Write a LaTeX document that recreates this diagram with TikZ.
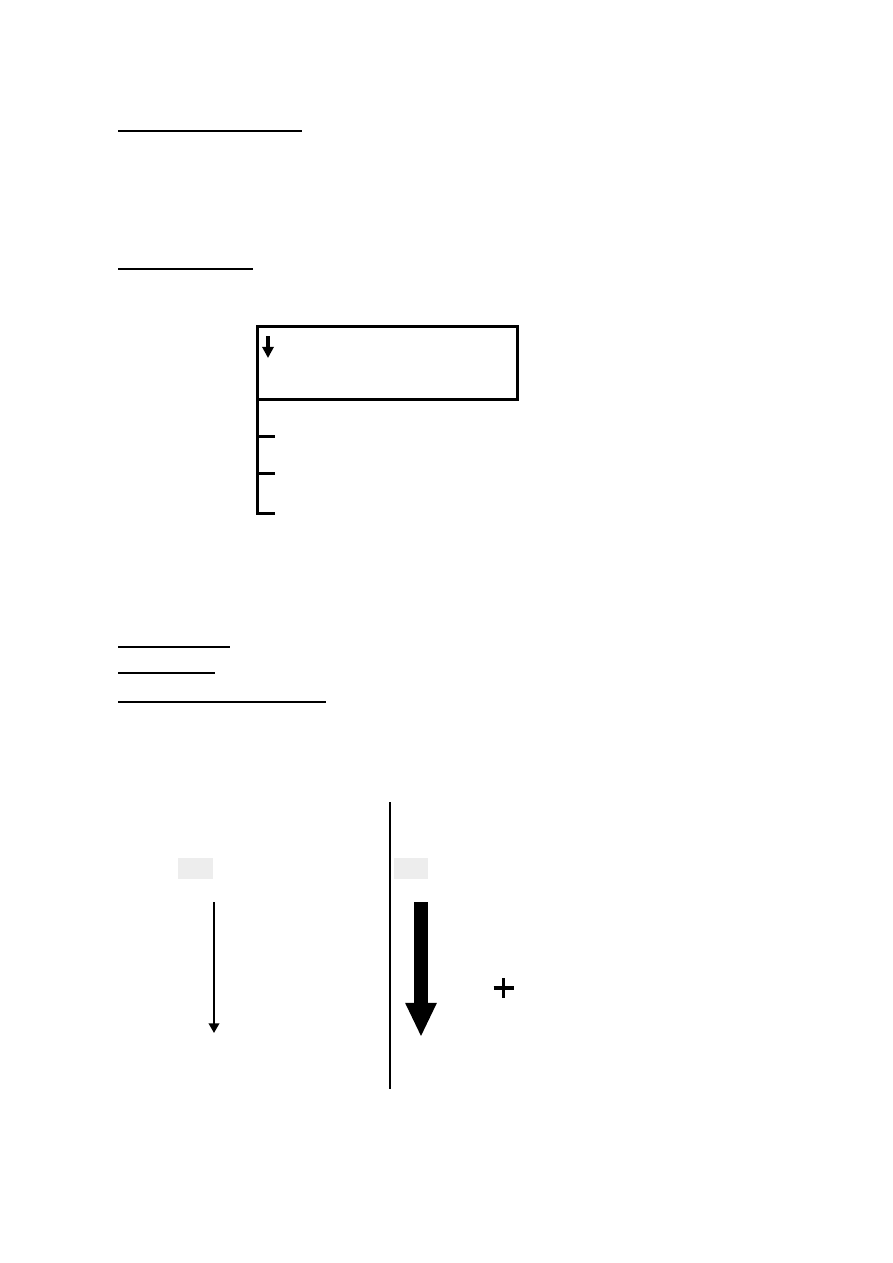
\documentclass[tikz,border=0pt]{standalone}
\usepackage{tikz}
\usetikzlibrary{arrows.meta,positioning,calc}
\tikzset{
    rule/.style={
        line width=1pt,
    },
    frame/.style={
        rectangle,
        draw=black,
        line width=2pt,
        minimum width=174pt,
        minimum height=49.3pt,
        inner sep=0pt,
        outer sep=0pt,
    },
    stem/.style={
        line width=2pt,
    },
    tab/.style={
        rectangle,
        fill=black!7,
        minimum width=23.3pt,
        minimum height=14pt,
        inner sep=0pt,
    },
}

\begin{document}
\begin{tikzpicture}[x=0.6667pt,y=-0.6667pt]
	    \useasboundingbox (0,0) rectangle (893,1263);
	    % underlines
	    \coordinate (u1a) at (118,131); \coordinate (u1b) at (302,131);
	    \coordinate (u2a) at (118,269); \coordinate (u2b) at (253,269);
	    \coordinate (u3a) at (118,647); \coordinate (u3b) at (230,647);
	    \coordinate (u4a) at (118,673); \coordinate (u4b) at (215,673);
	    \coordinate (u5a) at (118,702); \coordinate (u5b) at (326,702);
	    \draw [rule] (u1a) -- (u1b);
	    \draw [rule] (u2a) -- (u2b);
	    \draw [rule] (u3a) -- (u3b);
	    \draw [rule] (u4a) -- (u4b);
	    \draw [rule] (u5a) -- (u5b);
	    % box with tree
	    \node [frame] (menu) at (387.5,363) {};
	    \coordinate (pin) at (268,336);
	    \coordinate (pinend) at (268,358);
	    \draw [line width=2.2pt,-{Triangle[width=7.5pt,length=7.5pt]}] (pin) -- (pinend);
	    \coordinate (leaf1) at (275,436);
	    \coordinate (leaf2) at (275,473);
	    \coordinate (leaf3) at (275,513);
	    \draw [stem] (menu.south west) |- (leaf3);
	    \draw [stem] (menu.south west |- leaf1) -- (leaf1);
	    \draw [stem] (menu.south west |- leaf2) -- (leaf2);
	    % two columns
	    \coordinate (divtop) at (390,802);
	    \coordinate (divbot) at (390,1089);
	    \draw [line width=1.3pt] (divtop) -- (divbot);
	    \node [tab] (lefttab) at (195.5,868) {};
	    \node [tab] (righttab) at (411,868) {};
	    \coordinate (thin) at (214,902);
	    \coordinate (thinend) at (214,1033);
	    \draw [line width=1.5pt,-{Triangle[width=7pt,length=6.5pt]}] (thin) -- (thinend);
	    \coordinate (fat) at (421,902);
	    \coordinate (fatend) at (421,1037);
	    \draw [line width=9.3pt,-{Triangle[width=19.3pt,length=22.7pt]}] (fat) -- (fatend);
	    \node [inner sep=0pt] (plus) at (503.5,988) {};
	    \draw [line width=2.4pt] ($(plus)+(-10,0)$) -- ($(plus)+(10,0)$);
	    \draw [line width=2.4pt] ($(plus)+(0,-10)$) -- ($(plus)+(0,10)$);
\end{tikzpicture}
\end{document}
